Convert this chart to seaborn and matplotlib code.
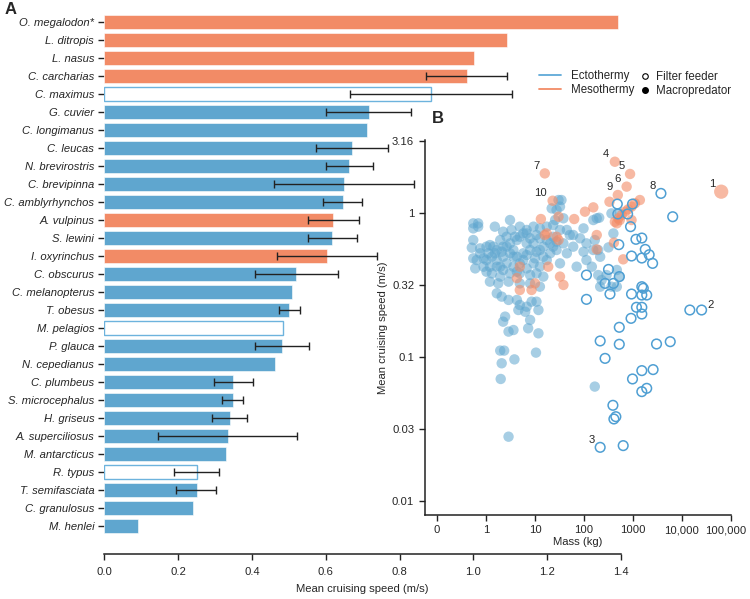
import numpy as np
import pandas as pd
import matplotlib
matplotlib.use("Agg")
import matplotlib.pyplot as plt
import matplotlib.transforms as mtransforms
import seaborn as sns
from matplotlib.lines import Line2D

sns.set_theme(style="ticks")
plt.rcParams["font.family"] = ["Liberation Sans", "DejaVu Sans"]

FS = 8.1

# ---------------- Panel A data ----------------
species = ["O. megalodon*", "L. ditropis", "L. nasus", "C. carcharias", "C. maximus",
           "G. cuvier", "C. longimanus", "C. leucas", "N. brevirostris", "C. brevipinna",
           "C. amblyrhynchos", "A. vulpinus", "S. lewini", "I. oxyrinchus", "C. obscurus",
           "C. melanopterus", "T. obesus", "M. pelagios", "P. glauca", "N. cepedianus",
           "C. plumbeus", "S. microcephalus", "H. griseus", "A. superciliosus",
           "M. antarcticus", "R. typus", "T. semifasciata", "C. granulosus", "M. henlei"]
speed = [1.393, 1.092, 1.002, 0.982, 0.885, 0.716, 0.711, 0.671, 0.664, 0.649,
         0.646, 0.621, 0.618, 0.603, 0.520, 0.509, 0.501, 0.484, 0.481, 0.462,
         0.350, 0.348, 0.341, 0.335, 0.330, 0.251, 0.250, 0.240, 0.090]
err_low = [np.nan, np.nan, np.nan, 0.873, 0.665, 0.601, np.nan, 0.573, 0.602, 0.460,
           0.593, 0.551, 0.551, 0.468, 0.408, np.nan, 0.472, np.nan, 0.408, np.nan,
           0.298, 0.320, 0.292, 0.145, np.nan, 0.190, 0.195, np.nan, np.nan]
err_high = [np.nan, np.nan, np.nan, 1.090, 1.104, 0.831, np.nan, 0.770, 0.728, 0.838,
            0.698, 0.689, 0.684, 0.739, 0.634, np.nan, 0.529, np.nan, 0.555, np.nan,
            0.403, 0.376, 0.388, 0.523, np.nan, 0.311, 0.303, np.nan, np.nan]
group = ["Mesothermy", "Mesothermy", "Mesothermy", "Mesothermy", "Filter feeder",
         "Ectothermy", "Ectothermy", "Ectothermy", "Ectothermy", "Ectothermy",
         "Ectothermy", "Mesothermy", "Ectothermy", "Mesothermy", "Ectothermy",
         "Ectothermy", "Ectothermy", "Filter feeder", "Ectothermy", "Ectothermy",
         "Ectothermy", "Ectothermy", "Ectothermy", "Ectothermy", "Ectothermy",
         "Filter feeder", "Ectothermy", "Ectothermy", "Ectothermy"]

# ---------------- Panel B data (log10 values) ----------------
# ectotherm macropredators
ecto_log_mass = [-0.26, -0.16, -0.26, -0.16, 0.18, 0.49, 0.52, 0.69, 0.83, 0.97, 1.10, 1.24, 1.37,
                 1.41, 1.58, 1.48, 1.54, 1.34, 1.51, 1.44, 1.65, 1.78, 1.99, 2.19, 2.31, 2.56,
                 2.73, 2.60, 2.26, 2.22, 2.29, 2.50, 2.33,
                 -0.26, -0.29, -0.12, 0.08, 0.15, 0.29, 0.22, 0.35, 0.49, 0.63, 0.69, 0.76, 0.90,
                 0.97, 1.03, 1.17, 1.31, 1.44, 1.58, 1.71, 1.92, 2.05, 1.99, 2.19, 2.05, 2.16, 1.85,
                 -0.26, -0.19, -0.05, 0.01, 0.12, 0.22, 0.35, 0.49, 0.63, 0.76, 0.90, 1.03, 1.17,
                 1.31, 1.44, 1.65, -0.22, 0.01, 0.12, 0.29, 0.42, 0.56, 0.69, 0.83, 0.97, 1.10,
                 1.24, 1.51, 0.29, 0.49, 0.69, 0.90, 1.03, 1.17, 0.08, 0.25, 0.46, 0.69, 0.90,
                 1.10, 2.29, 2.36, 2.46, 2.67, 2.73, 2.33, 2.67, 2.56,
                 0.22, 0.32, 0.46, 0.63, 0.69, 0.83, 0.93, 1.03, 1.07, 0.80, 0.66, 0.39, 0.35,
                 0.90, 0.86, 1.07, 0.46, 0.56, 0.29, 0.37, 0.32, 0.58, 1.02, 0.30, 0.46, 2.22,
                 0.01, 0.05, 0.18, 0.32, 0.42, 0.56, 0.59, 0.83, 0.42, 0.22, 0.35, 0.63, 0.76,
                 0.83, 1.00, 1.10, 1.24, 1.37, 1.37, 1.51, 1.10, 1.78, 0.56, 0.83, 0.35, -0.05,
                 0.08, -0.12]
ecto_log_speed = [-0.074, -0.074, -0.109, -0.097, -0.097, -0.051, -0.120, -0.097, -0.120, -0.097,
                  -0.109, -0.097, -0.086, -0.051, -0.039, 0.088, 0.088, 0.030, 0.042, 0.019,
                  -0.120, -0.155, -0.109, -0.051, -0.035, -0.005, -0.005, -0.144, -0.039,
                  -0.190, -0.259, -0.241, -0.306,
                  -0.190, -0.243, -0.248, -0.225, -0.236, -0.190, -0.259, -0.236, -0.213, -0.190,
                  -0.167, -0.144, -0.178, -0.213, -0.155, -0.236, -0.213, -0.201, -0.213, -0.155,
                  -0.178, -0.213, -0.271, -0.259, -0.329, -0.375, -0.375,
                  -0.317, -0.329, -0.317, -0.329, -0.306, -0.329, -0.306, -0.282, -0.306, -0.282,
                  -0.259, -0.271, -0.306, -0.282, -0.259, -0.282, -0.387, -0.410, -0.421, -0.375,
                  -0.352, -0.375, -0.352, -0.387, -0.352, -0.375, -0.329, -0.352, -0.444, -0.421,
                  -0.421, -0.433, -0.421, -0.444, -0.479, -0.491, -0.479, -0.491, -0.491, -0.514,
                  -0.433, -0.468, -0.433, -0.398, -0.444, -0.514, -0.514, -0.514,
                  -0.560, -0.583, -0.606, -0.606, -0.641, -0.653, -0.618, -0.618, -0.676, -0.688,
                  -0.676, -0.722, -0.757, -0.745, -0.803, -0.838, -0.826, -0.815, -0.958, -0.958,
                  -1.046, -1.019, -0.972, -1.155, -1.556, -1.208,
                  -0.236, -0.282, -0.282, -0.271, -0.236, -0.259, -0.167, -0.213, -0.167, -0.375,
                  -0.398, -0.410, -0.329, -0.294, -0.317, -0.259, -0.190, -0.167, -0.236, -0.120,
                  -0.178, -0.236, -0.306, -0.144, -0.132, -0.375, -0.375, -0.282]

# mesotherm macropredators
meso_log_mass = [2.63, 2.94, 2.87, 2.69, 1.20, 1.36, 2.52, 3.14, 2.19, 2.02, 1.80, 1.12, 1.48,
                 2.63, 2.70, 2.77, 2.84, 2.90, 2.97, 2.67, 2.73, 2.97, 3.04,
                 2.26, 2.26, 2.61, 2.80, 1.24, 1.20, 1.48, 1.44, 1.27, 1.51, 1.58,
                 0.63, 0.69, 0.93, 1.00, 0.69]
meso_log_speed = [0.354, 0.269, 0.181, 0.123, 0.273, 0.083, 0.076, 0.088, 0.037, 0.007, -0.044,
                  -0.044, -0.028, -0.063, -0.039, -0.016, 0.007, 0.023, 0.042, -0.074, -0.051,
                  -0.051, 0.065, -0.155, -0.255, -0.208, -0.324, -0.144, -0.155, -0.190, -0.167,
                  -0.375, -0.444, -0.502, -0.454, -0.537, -0.537, -0.491, -0.375]
megalodon_log_mass = 4.80
megalodon_log_speed = 0.146

# ectotherm filter feeders
filter_log_mass = [3.57, 3.81, 2.68, 2.99, 2.69, 2.89, 2.95, 3.06, 3.18, 2.71, 3.25, 3.33, 2.97,
                   3.18, 3.40, 2.50, 2.72, 2.05, 2.43, 2.60, 2.53, 2.05, 2.97, 3.18, 3.21, 3.18,
                   3.28, 3.07, 3.18, 3.18, 2.96, 2.72, 4.16, 4.40, 2.33, 2.72, 3.48, 3.76, 2.43,
                   3.18, 3.41, 2.99, 3.28, 3.18, 2.59, 2.65, 2.61, 2.33, 2.80]
filter_log_speed = [0.134, -0.028, 0.060, 0.060, -0.009, -0.009, -0.097, -0.185, -0.176, -0.222,
                    -0.255, -0.292, -0.301, -0.315, -0.352, -0.394, -0.444, -0.433, -0.491, -0.491,
                    -0.565, -0.602, -0.565, -0.514, -0.525, -0.572, -0.572, -0.657, -0.657, -0.704,
                    -0.734, -0.796, -0.676, -0.676, -0.891, -0.914, -0.912, -0.896, -1.012, -1.097,
                    -1.090, -1.155, -1.220, -1.243, -1.338, -1.417, -1.433, -1.630, -1.618]

# numbered labels: (label, log mass, log speed, side)
point_labels = [("1", 4.80, 0.146, "left"), ("2", 4.40, -0.676, "right"), ("3", 2.33, -1.630, "left"),
                ("4", 2.63, 0.354, "left"), ("5", 2.94, 0.269, "left"), ("6", 2.87, 0.181, "left"),
                ("7", 1.20, 0.273, "left"), ("8", 3.57, 0.134, "left"), ("9", 2.69, 0.123, "left"),
                ("10", 1.36, 0.083, "left")]

ORANGE = "#F28B66"
BLUE = "#5FA6CF"
EDGE_BLUE = "#4F9FD3"

W, H = 750, 599
fig = plt.figure(figsize=(W / 100, H / 100), dpi=100)

# ---------------- Panel A ----------------
axA = fig.add_axes([104.3 / W, (H - 554) / H, (621 - 104.3) / W, (554 - 13) / H])
df = pd.DataFrame({"species": species, "speed": speed, "group": group})
sns.barplot(data=df, x="speed", y="species", hue="group", order=species,
            palette={"Mesothermy": ORANGE, "Ectothermy": BLUE, "Filter feeder": "white"},
            dodge=False, width=0.8, saturation=1, errorbar=None, legend=False, ax=axA)
for p in axA.patches:
    fc = p.get_facecolor()
    if fc[0] > 0.99 and fc[1] > 0.99 and fc[2] > 0.99:
        p.set_edgecolor("#6DB3DD")
        p.set_linewidth(1.0)
    else:
        p.set_edgecolor("white")
        p.set_linewidth(0.4)

idx = np.arange(len(species))
lo = np.array(err_low)
hi = np.array(err_high)
sp = np.array(speed)
m = ~np.isnan(lo)
axA.errorbar(sp[m], idx[m], xerr=[sp[m] - lo[m], hi[m] - sp[m]], fmt="none",
             ecolor="#222222", elinewidth=1.0, capsize=2.6, capthick=1.0, zorder=5)

axA.set_xlim(0, 1.4)
axA.set_ylim(29.56, -0.5)
axA.set_xticks([0.0, 0.2, 0.4, 0.6, 0.8, 1.0, 1.2, 1.4])
axA.set_xticklabels(["0.0", "0.2", "0.4", "0.6", "0.8", "1.0", "1.2", "1.4"])
for s in ["top", "right", "left"]:
    axA.spines[s].set_visible(False)
axA.spines["bottom"].set_linewidth(1.1)
axA.spines["bottom"].set_color("#222222")
axA.tick_params(axis="y", length=4.3, width=1.0, pad=3, labelsize=FS, color="#222222")
axA.tick_params(axis="x", length=4.3, width=1.0, pad=5, labelsize=FS, color="#222222")
for t in axA.get_yticklabels():
    t.set_fontstyle("italic")
axA.set_ylabel("")
axA.set_xlabel("Mean cruising speed (m/s)", fontsize=FS, labelpad=5)

# ---------------- Panel B ----------------
axB = fig.add_axes([425 / W, (H - 515) / H, 306 / W, 375 / H])
axB.set_facecolor("none")
sns.scatterplot(x=10 ** np.array(ecto_log_mass), y=10 ** np.array(ecto_log_speed),
                color=BLUE, alpha=0.55, s=56, edgecolor="none", linewidth=0, ax=axB)
sns.scatterplot(x=10 ** np.array(meso_log_mass), y=10 ** np.array(meso_log_speed),
                color=ORANGE, alpha=0.6, s=56, edgecolor="none", linewidth=0, ax=axB)
sns.scatterplot(x=[10 ** megalodon_log_mass], y=[10 ** megalodon_log_speed],
                color=ORANGE, alpha=0.6, s=105, edgecolor="none", linewidth=0, ax=axB)
sns.scatterplot(x=10 ** np.array(filter_log_mass), y=10 ** np.array(filter_log_speed),
                facecolor="none", edgecolor=EDGE_BLUE, s=48, linewidth=1.1, ax=axB)

for lab, lmx, lsy, side in point_labels:
    if side == "left":
        axB.annotate(lab, (10 ** lmx, 10 ** lsy), xytext=(-4, 2), textcoords="offset points",
                     ha="right", va="bottom", fontsize=FS)
    else:
        axB.annotate(lab, (10 ** lmx, 10 ** lsy), xytext=(4, 0), textcoords="offset points",
                     ha="left", va="bottom", fontsize=FS)

axB.set_xscale("log")
axB.set_yscale("log")
axB.set_xlim(10 ** -1.245, 1e5)
axB.set_ylim(10 ** -2.1, 10 ** 0.505)
axB.set_xticks([0.1, 1, 10, 100, 1000, 1e4, 1e5])
axB.set_xticklabels(["0", "1", "10", "100", "1000", "10,000", "100,000"])
axB.set_yticks([10 ** 0.5, 1, 10 ** -0.5, 0.1, 10 ** -1.5, 0.01])
axB.set_yticklabels(["3.16", "1", "0.32", "0.1", "0.03", "0.01"])
axB.minorticks_off()
for s in ["top", "right"]:
    axB.spines[s].set_visible(False)
for s in ["left", "bottom"]:
    axB.spines[s].set_linewidth(1.1)
    axB.spines[s].set_color("#222222")
axB.tick_params(axis="both", length=4.3, width=1.0, labelsize=FS, color="#222222")
axB.tick_params(axis="x", pad=3)
axB.set_xlabel("Mass (kg)", fontsize=FS, labelpad=1)
axB.set_ylabel("Mean cruising speed (m/s)", fontsize=FS, labelpad=3)

# shift the last x tick label slightly left so it stays inside the figure
last = axB.get_xticklabels()[-1]
last.set_transform(last.get_transform() +
                   mtransforms.ScaledTranslation(-5 / 100, 0, fig.dpi_scale_trans))

# ---------------- Legends ----------------
h1 = [Line2D([0], [0], color="#5FA9D8", lw=1.3), Line2D([0], [0], color="#F28B66", lw=1.3)]
leg1 = fig.legend(h1, ["Ectothermy", "Mesothermy"], loc="upper left",
                  bbox_to_anchor=(539 / W, 1 - 70 / H), frameon=False, fontsize=8.3,
                  handlelength=1.9, handletextpad=0.85, borderpad=0, borderaxespad=0,
                  labelspacing=0.15)
h2 = [Line2D([0], [0], marker="o", linestyle="", markerfacecolor="white",
             markeredgecolor="black", markersize=4, markeredgewidth=0.8),
      Line2D([0], [0], marker="o", linestyle="", markerfacecolor="black",
             markeredgecolor="black", markersize=4)]
leg2 = fig.legend(h2, ["Filter feeder", "Macropredator"], loc="upper left",
                  bbox_to_anchor=(640 / W, 1 - 71 / H), frameon=False, fontsize=8.3,
                  handlelength=0.8, handletextpad=0.55, borderpad=0, borderaxespad=0,
                  labelspacing=0.15)

fig.text(5 / W, 1 - 2 / H, "A", fontsize=12, fontweight="bold", va="top", ha="left")
fig.text(432 / W, 1 - 111 / H, "B", fontsize=12, fontweight="bold", va="top", ha="left")

fig.savefig("out.png", dpi=100)
